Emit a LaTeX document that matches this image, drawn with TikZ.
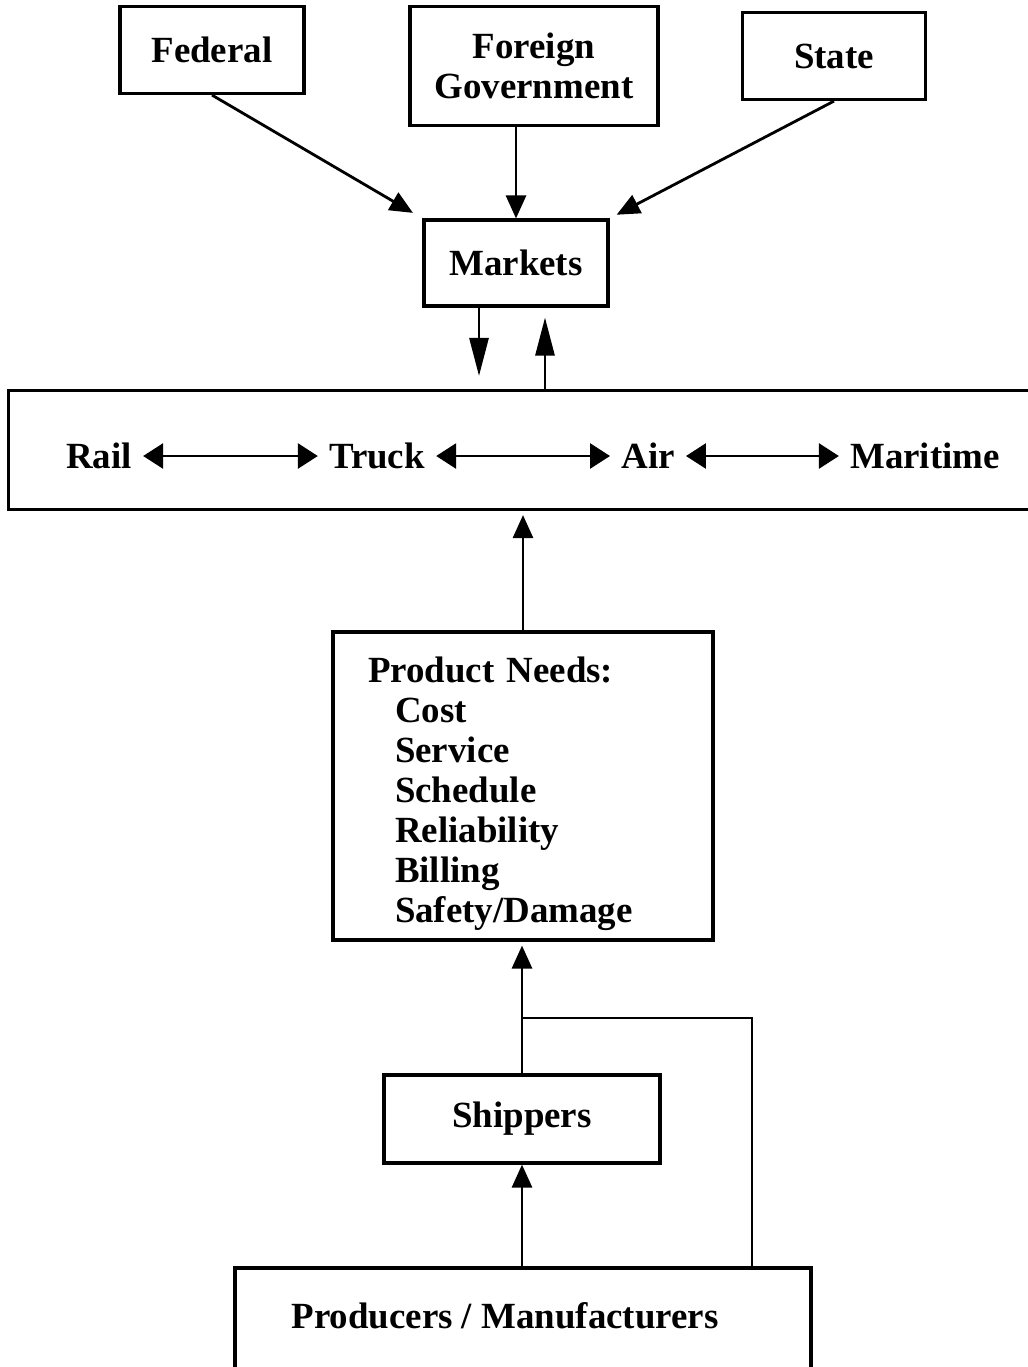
\documentclass[tikz,border=0pt]{standalone}
\usepackage{fontspec}
\setmainfont{Liberation Serif}
\usetikzlibrary{arrows.meta}

\tikzset{
  box/.style={draw, line width=1.8pt, inner sep=0pt, align=center,
    font=\bfseries\fontsize{21}{22.8}\selectfont},
  mode/.style={inner sep=0.22cm, font=\bfseries\fontsize{21}{22.8}\selectfont},
  arr/.style={line width=1.6pt, -{Triangle[length=0.46cm,width=0.4cm]}},
  longarr/.style={line width=1.6pt, -{Triangle[length=0.76cm,width=0.38cm]}},
  twoway/.style={line width=1.6pt,
    {Triangle[length=0.4cm,width=0.5cm]}-{Triangle[length=0.4cm,width=0.5cm]}},
  link/.style={line width=1.6pt}
}

\begin{document}
\begin{tikzpicture}[x=0.02cm, y=-0.02cm]
\useasboundingbox (0,0) rectangle (1028,1367);

\node[box, minimum width=3.68cm, minimum height=1.74cm] (federal) at (212,50) {Federal};
\node[box, minimum width=4.96cm, minimum height=2.38cm] (foreign) at (534,66) {Foreign\\Government};
\node[box, minimum width=3.66cm, minimum height=1.74cm] (state) at (834,56) {State};
\node[box, minimum width=3.68cm, minimum height=1.72cm] (markets) at (516,263) {Markets};

\node[box, minimum width=20.64cm, minimum height=2.38cm] (modes) at (524,450) {};
\node[mode] (rail) at (99,456) {Rail};
\node[mode] (truck) at (377,456) {Truck};
\node[mode] (air) at (648,456) {Air};
\node[mode] (maritime) at (925,456) {Maritime};

\node[box, minimum width=7.6cm, minimum height=6.16cm] (needs) at (523,786) {};
\node[mode, inner sep=0pt, text width=6.2cm, align=left] (needslist) at (523,794)
  {Product Needs:\\
   \hspace*{0.54cm}Cost\\
   \hspace*{0.54cm}Service\\
   \hspace*{0.54cm}Schedule\\
   \hspace*{0.54cm}Reliability\\
   \hspace*{0.54cm}Billing\\
   \hspace*{0.54cm}Safety/Damage};

\node[box, minimum width=5.52cm, minimum height=1.76cm] (shippers) at (522,1119) {Shippers};
\node[box, minimum width=11.52cm, minimum height=2.64cm] (producers) at (523,1334) {};
\node[mode] (prodtext) at (505,1316) {Producers / Manufacturers};

\coordinate (tap) at (522,1018);
\coordinate (bend) at (752,1018);

\path [arr] (federal.south) edge [shorten >=0.22cm] (markets.north west);
\path [arr] (foreign.south -| markets.north) edge (markets.north);
\path [arr] (state.south) edge [shorten >=0.16cm] (markets.north east);

\draw [longarr, shorten >=0.26cm] ([xshift=-0.74cm]markets.south)
  -- ([xshift=-0.74cm]markets.south |- modes.north);
\draw [longarr, shorten >=0.2cm] ([xshift=0.58cm]markets.south |- modes.north)
  -- ([xshift=0.58cm]markets.south);

\path [twoway] (rail) edge (truck);
\path [twoway] (truck) edge (air);
\path [twoway] (air) edge (maritime);

\path [arr] (needs.north) edge [shorten >=0.08cm] (needs.north |- modes.south);
\path [arr] (shippers.north) edge [shorten >=0.08cm] (shippers.north |- needs.south);
\path [arr] (producers.north -| shippers.south) edge (shippers.south);
\draw [link] (tap) -- (bend) -- (bend |- producers.north);
\end{tikzpicture}
\end{document}
